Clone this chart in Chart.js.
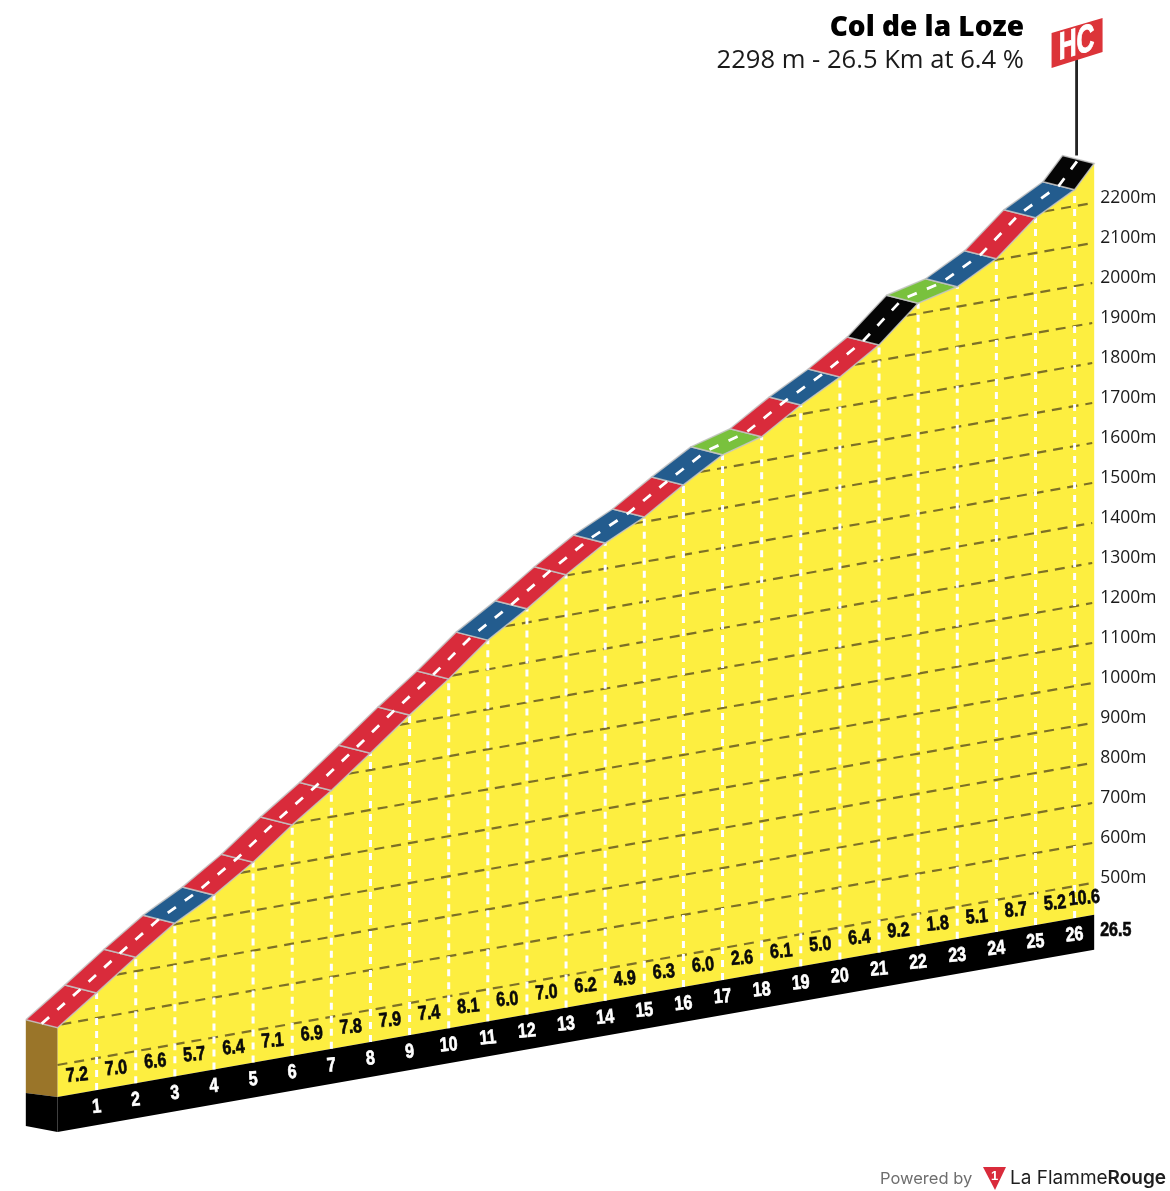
<!DOCTYPE html>
<html>
<head>
<meta charset="utf-8">
<title>Col de la Loze</title>
<script src="https://cdn.jsdelivr.net/npm/chart.js@4"></script>
<style>
  html, body { margin: 0; padding: 0; background: #fff; }
  canvas { display: block; }
</style>
</head>
<body>
<canvas id="profile" width="1170" height="1191"></canvas>
<script>
// Climb data
const kmMarks = [0, 1, 2, 3, 4, 5, 6, 7, 8, 9, 10, 11, 12, 13, 14, 15, 16, 17, 18, 19, 20, 21, 22, 23, 24, 25, 26, 26.5];
const altitudes = [593, 663, 735, 803, 856, 921, 997, 1066, 1142, 1220, 1293, 1373, 1434, 1502, 1564, 1612, 1675, 1733, 1761, 1823, 1876, 1939, 2026, 2050, 2103, 2188, 2241, 2298];
const gradients = [7.2, 7.0, 6.6, 5.7, 6.4, 7.1, 6.9, 7.8, 7.9, 7.4, 8.1, 6.0, 7.0, 6.2, 4.9, 6.3, 6.0, 2.6, 6.1, 5.0, 6.4, 9.2, 1.8, 5.1, 8.7, 5.2, 10.6];
const altTicks = [500, 600, 700, 800, 900, 1000, 1100, 1200, 1300, 1400, 1500, 1600, 1700, 1800, 1900, 2000, 2100, 2200];

const climbName = "Col de la Loze";
const climbInfo = "2298 m - 26.5 Km at 6.4 %";

// Projection: baseline rises with distance, road has some depth
const BASE_ALT = 420;
const SHEAR = 17.2;      // metres of lift per km
const BAND = 87.5;       // black band height in metres
const DEPTH_KM = 0.81;
const DEPTH_M = 20;

const proj = (km, alt) => alt + km * SHEAR;
const front = (i) => ({ x: kmMarks[i], y: proj(kmMarks[i], altitudes[i]) });
const back = (i) => ({ x: kmMarks[i] - DEPTH_KM, y: proj(kmMarks[i], altitudes[i]) + DEPTH_M });
const ground = (km, alt) => ({ x: km, y: proj(km, alt) });

function gradientColor(g) {
  if (g >= 9) return "#050505";
  if (g > 6) return "#d92b3b";
  if (g >= 3) return "#235c8e";
  return "#79c13d";
}

// helpers for the datasets, pushed back to front
const layers = [];
function shape(points, color, border) {
  layers.push({
    data: points, fill: "shape", backgroundColor: color,
    borderColor: border || "transparent", borderWidth: border ? 1.5 : 0,
    pointRadius: 0, tension: 0
  });
}
function stroke(points, color, width, dash) {
  layers.push({
    data: points, fill: false, borderColor: color, borderWidth: width,
    borderDash: dash || [], pointRadius: 0, tension: 0, borderCapStyle: "butt"
  });
}

const lastKm = kmMarks[kmMarks.length - 1];

// yellow face
const facePts = kmMarks.map((k, i) => front(i));
facePts.push(ground(lastKm, BASE_ALT), ground(0, BASE_ALT));
shape(facePts, "#fdee40");

// black band under the profile
shape([ground(0, BASE_ALT), ground(lastKm, BASE_ALT), ground(lastKm, BASE_ALT - BAND), ground(0, BASE_ALT - BAND)], "#000");

// brown and black end of the block
const bx = -DEPTH_KM;
const blockTop = { x: bx, y: proj(0, altitudes[0]) + DEPTH_M };
const blockMid = { x: bx, y: proj(0, BASE_ALT) + 10 };
const blockLow = { x: bx, y: proj(0, BASE_ALT - BAND) + 15 };
shape([blockTop, front(0), ground(0, BASE_ALT), blockMid], "#9a7529");
shape([blockMid, ground(0, BASE_ALT), ground(0, BASE_ALT - BAND), blockLow], "#000");

// altitude lines, starting where they meet the profile
altTicks.forEach(a => {
  let i = 0;
  while (i < altitudes.length - 2 && altitudes[i + 1] < a) i++;
  const start = kmMarks[i] + (a - altitudes[i]) / (altitudes[i + 1] - altitudes[i]) * (kmMarks[i + 1] - kmMarks[i]);
  stroke([ground(Math.max(start, 0), a), ground(lastKm - 0.05, a)], "#7d7026", 2.2, [10, 7]);
});

// km lines
kmMarks.forEach((k, i) => {
  if (i === 0 || k === lastKm) return;
  stroke([ground(k, BASE_ALT), front(i)], "#ffffff", 3, [7, 6]);
});

// road segments
gradients.forEach((g, i) => {
  shape([back(i), back(i + 1), front(i + 1), front(i), back(i)], gradientColor(g), "rgba(196,196,196,0.85)");
});

// dashed centre of the road
stroke(kmMarks.map((k, i) => ({ x: k - DEPTH_KM / 2, y: proj(k, altitudes[i]) + DEPTH_M / 2 })), "#ffffff", 2.8, [10, 11]);

// summit pole
const poleKm = 26.05;
const summit = proj(lastKm, altitudes[altitudes.length - 1]);
stroke([{ x: poleKm, y: summit + DEPTH_M }, { x: poleKm, y: summit + 262 }], "#242424", 2.8);

// texts
const textPlugin = {
  id: "profileTexts",
  afterDatasetsDraw(chart) {
    const { ctx, scales } = chart;
    const px = scales.x, py = scales.y;
    const heavy = 'bold 20px "Liberation Sans", sans-serif';
    // condensed look: no narrow font here, so squeeze the bold one
    const squeezed = (txt, x, y, color, align, angle) => {
      ctx.save();
      ctx.translate(x, y);
      ctx.rotate((angle || 0) * Math.PI / 180);
      ctx.scale(0.8, 1);
      ctx.font = heavy;
      ctx.fillStyle = color;
      ctx.strokeStyle = color;
      ctx.lineWidth = 0.7;
      ctx.textAlign = align || "center";
      ctx.textBaseline = "middle";
      ctx.fillText(txt, 0, 0);
      ctx.strokeText(txt, 0, 0);
      ctx.restore();
    };

    gradients.forEach((g, i) => {
      const mid = (kmMarks[i] + kmMarks[i + 1]) / 2;
      squeezed(g.toFixed(1), px.getPixelForValue(mid), py.getPixelForValue(proj(mid, BASE_ALT)) - 18, "#0a0a0a", "center", -5);
    });
    kmMarks.forEach((k, i) => {
      if (i === 0 || k === lastKm) return;
      squeezed(String(k), px.getPixelForValue(k), py.getPixelForValue(proj(k, BASE_ALT)) + 17, "#ffffff", "center", -5);
    });

    ctx.save();
    ctx.textBaseline = "middle";
    ctx.textAlign = "left";
    const labelX = px.getPixelForValue(lastKm) + 6;
    ctx.font = '17.5px "Open Sans", sans-serif';
    ctx.fillStyle = "#1a1a1a";
    altTicks.forEach(a => {
      ctx.fillText(a + "m", labelX, py.getPixelForValue(proj(lastKm, a)) - 5);
    });
    ctx.restore();
    squeezed(String(lastKm), labelX, py.getPixelForValue(proj(lastKm, BASE_ALT)) + 16, "#0a0a0a", "left");

    // title block
    ctx.save();
    ctx.textBaseline = "middle";
    ctx.textAlign = "right";
    ctx.font = '800 28px "Open Sans", sans-serif';
    ctx.fillStyle = "#000";
    ctx.fillText(climbName, 1024, 28);
    ctx.font = '25.6px "Open Sans", sans-serif';
    ctx.fillStyle = "#1a1a1a";
    ctx.fillText(climbInfo, 1024, 61);
    ctx.restore();

    // HC flag on top of the pole
    const fx = px.getPixelForValue(poleKm);
    ctx.save();
    ctx.fillStyle = "#dc3439";
    ctx.beginPath();
    ctx.moveTo(fx - 25, 33);
    ctx.lineTo(fx + 26, 18);
    ctx.lineTo(fx + 26, 52);
    ctx.lineTo(fx - 25, 68);
    ctx.closePath();
    ctx.fill();
    ctx.transform(0.8, -0.24, 0, 1.25, fx, 44);
    ctx.font = 'bold 31px "Liberation Sans", sans-serif';
    ctx.fillStyle = "#fff";
    ctx.strokeStyle = "#fff";
    ctx.lineWidth = 0.8;
    ctx.textAlign = "center";
    ctx.textBaseline = "middle";
    ctx.fillText("HC", 0, 0);
    ctx.strokeText("HC", 0, 0);
    ctx.restore();

    // footer
    ctx.save();
    ctx.textBaseline = "middle";
    ctx.textAlign = "left";
    ctx.font = '16.5px Inter, sans-serif';
    ctx.fillStyle = "#6e6e6e";
    ctx.fillText("Powered by", 880, 1179);
    ctx.fillStyle = "#d92b3b";
    ctx.beginPath();
    ctx.moveTo(983, 1167);
    ctx.lineTo(1006, 1167);
    ctx.lineTo(995, 1190);
    ctx.closePath();
    ctx.fill();
    ctx.font = 'bold 13px "Liberation Sans", sans-serif';
    ctx.fillStyle = "#fff";
    ctx.fillText("1", 991, 1176);
    ctx.font = '19px Inter, sans-serif';
    ctx.fillStyle = "#1e1e1e";
    ctx.fillText("La Flamme", 1010, 1178);
    const w = ctx.measureText("La Flamme").width;
    ctx.font = '600 19px Inter, sans-serif';
    ctx.fillText("Rouge", 1010 + w, 1178);
    ctx.restore();
  }
};

new Chart(document.getElementById("profile").getContext("2d"), {
  type: "line",
  data: { datasets: layers.slice().reverse() },
  options: {
    responsive: false,
    animation: false,
    layout: { padding: 0 },
    plugins: { legend: { display: false }, tooltip: { enabled: false }, title: { display: false } },
    scales: {
      x: { type: "linear", display: false, min: -57.5 / 39.12, max: (1170 - 57.5) / 39.12 },
      y: { type: "linear", display: false, min: BASE_ALT - 94 / 0.4, max: BASE_ALT + 1097 / 0.4 }
    }
  },
  plugins: [textPlugin]
});
</script>
</body>
</html>
